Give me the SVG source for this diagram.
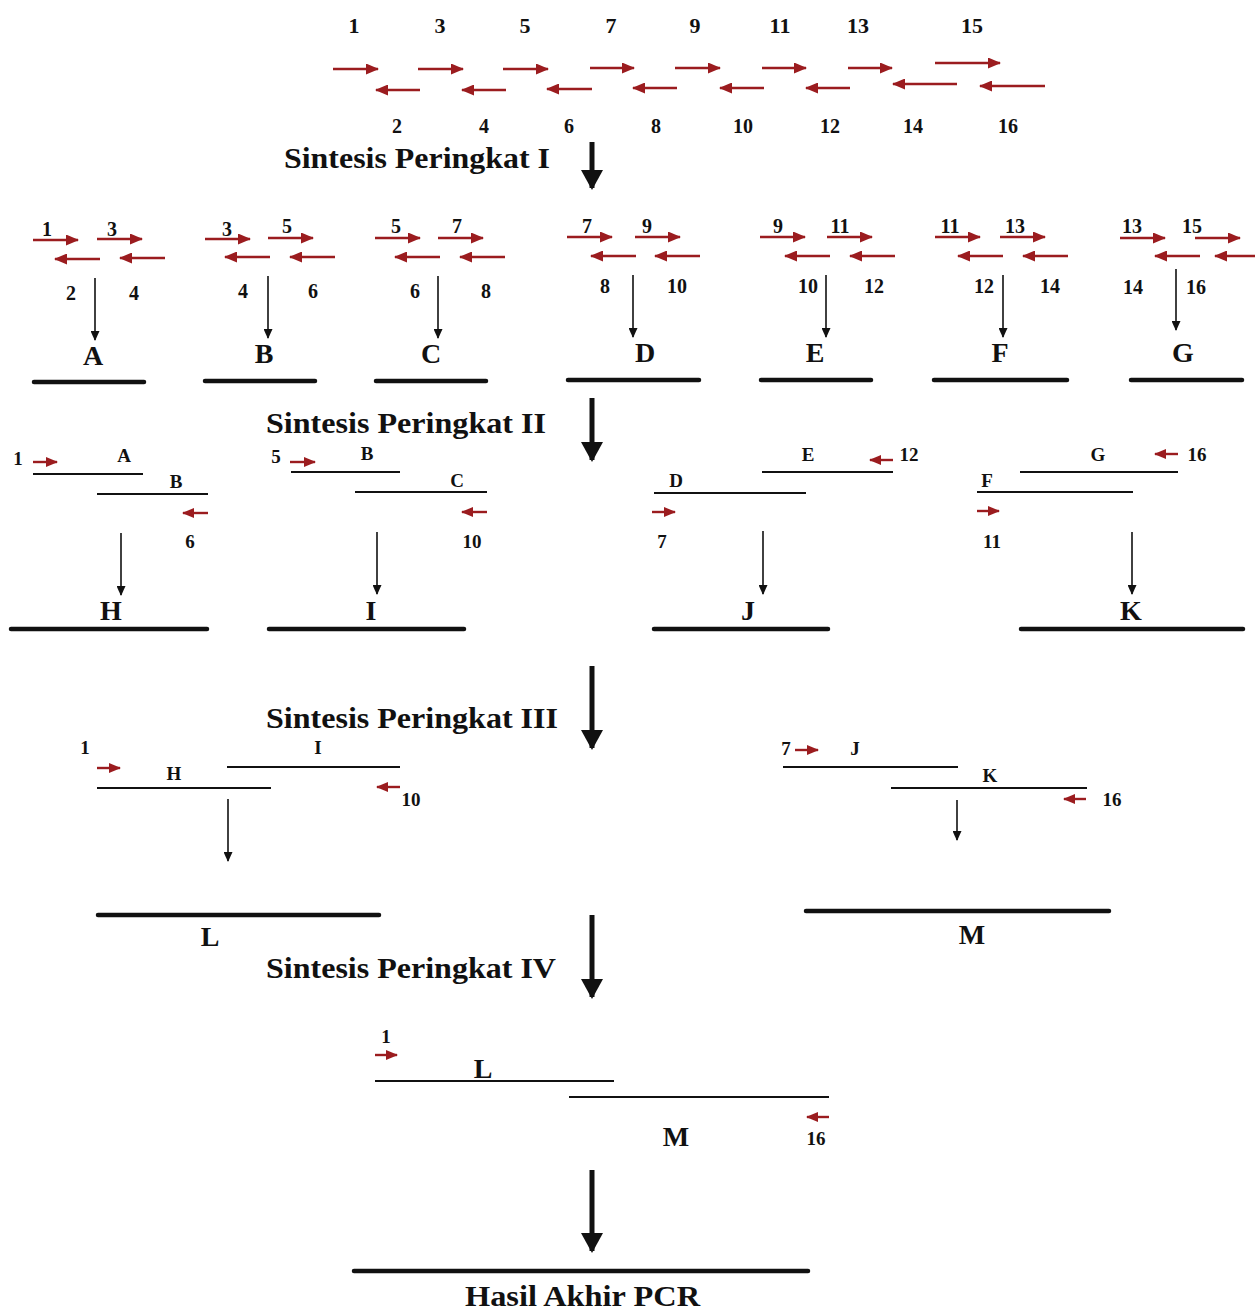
<svg xmlns="http://www.w3.org/2000/svg" width="1255" height="1316" viewBox="0 0 1255 1316">
<defs>
<marker id="rh" viewBox="0 0 13 11" markerWidth="13" markerHeight="11" refX="12" refY="5.5" orient="auto" markerUnits="userSpaceOnUse"><path d="M0,0 L13,5.5 L0,11 z" fill="#9b1c1f"/></marker>
<marker id="rhs" viewBox="0 0 12 10" markerWidth="12" markerHeight="10" refX="11" refY="5" orient="auto" markerUnits="userSpaceOnUse"><path d="M0,0 L12,5 L0,10 z" fill="#9b1c1f"/></marker>
<marker id="bh" viewBox="0 0 10 9" markerWidth="10" markerHeight="9" refX="9" refY="4.5" orient="auto" markerUnits="userSpaceOnUse"><path d="M0,0 L10,4.5 L0,9 z" fill="#111"/></marker>
<marker id="bbh" viewBox="0 0 20 22" markerWidth="20" markerHeight="22" refX="18" refY="11" orient="auto" markerUnits="userSpaceOnUse"><path d="M0,0 L20,11 L0,22 z" fill="#111"/></marker>
<style>
text{font-family:"Liberation Serif","Times New Roman",serif;font-weight:bold;fill:#111;text-anchor:middle}
.n1{font-size:22px}
.n2{font-size:20px}
.sm{font-size:19px}
.lt{font-size:28px}
.st{font-size:30px;text-anchor:start}
.r{stroke:#9b1c1f;stroke-width:2.6;fill:none;marker-end:url(#rh)}
.rs{stroke:#9b1c1f;stroke-width:2.4;fill:none;marker-end:url(#rhs)}
.b{stroke:#111;stroke-width:1.6;fill:none;marker-end:url(#bh)}
.bb{stroke:#111;stroke-width:5;fill:none;marker-end:url(#bbh)}
.thin{stroke:#111;stroke-width:2;fill:none}
.thick{stroke:#111;stroke-width:4.5;stroke-linecap:round;fill:none}
</style>
</defs>
<rect width="1255" height="1316" fill="#fff"/>

<g id="primers">
<text class="n1" x="354" y="33">1</text><text class="n1" x="440" y="33">3</text><text class="n1" x="525" y="33">5</text><text class="n1" x="611" y="33">7</text><text class="n1" x="695" y="33">9</text><text class="n1" x="780" y="33">11</text><text class="n1" x="858" y="33">13</text><text class="n1" x="972" y="33">15</text>
<line class="r" x1="333" y1="69" x2="378" y2="69"/><line class="r" x1="418" y1="69" x2="463" y2="69"/><line class="r" x1="503" y1="69" x2="548" y2="69"/><line class="r" x1="590" y1="68" x2="634" y2="68"/><line class="r" x1="675" y1="68" x2="720" y2="68"/><line class="r" x1="762" y1="68" x2="806" y2="68"/><line class="r" x1="848" y1="68" x2="892" y2="68"/><line class="r" x1="935" y1="63" x2="1000" y2="63"/>
<line class="r" x1="420" y1="90" x2="376" y2="90"/><line class="r" x1="506" y1="90" x2="462" y2="90"/><line class="r" x1="592" y1="89" x2="547" y2="89"/><line class="r" x1="677" y1="88" x2="633" y2="88"/><line class="r" x1="764" y1="88" x2="720" y2="88"/><line class="r" x1="850" y1="88" x2="806" y2="88"/><line class="r" x1="957" y1="84" x2="893" y2="84"/><line class="r" x1="1045" y1="86" x2="980" y2="86"/>
<text class="n2" x="397" y="133">2</text><text class="n2" x="484" y="133">4</text><text class="n2" x="569" y="133">6</text><text class="n2" x="656" y="133">8</text><text class="n2" x="743" y="133">10</text><text class="n2" x="830" y="133">12</text><text class="n2" x="913" y="133">14</text><text class="n2" x="1008" y="133">16</text>
</g>

<g id="stage1"><text class="st" x="284" y="168" textLength="266" lengthAdjust="spacingAndGlyphs">Sintesis Peringkat I</text></g>

<g id="A">
<text class="n2" x="47" y="236">1</text><text class="n2" x="112" y="236">3</text>
<line class="r" x1="33" y1="240" x2="78" y2="240"/><line class="r" x1="97" y1="239" x2="142" y2="239"/>
<line class="r" x1="100" y1="259" x2="55" y2="259"/><line class="r" x1="165" y1="258" x2="120" y2="258"/>
<text class="n2" x="71" y="300">2</text><text class="n2" x="134" y="300">4</text>
<text class="lt" x="93" y="365">A</text><line class="thick" x1="34" y1="382" x2="144" y2="382"/>
</g>
<g id="B">
<text class="n2" x="227" y="236">3</text><text class="n2" x="287" y="233">5</text>
<line class="r" x1="205" y1="239" x2="250" y2="239"/><line class="r" x1="268" y1="238" x2="313" y2="238"/>
<line class="r" x1="270" y1="257" x2="225" y2="257"/><line class="r" x1="335" y1="257" x2="290" y2="257"/>
<text class="n2" x="243" y="298">4</text><text class="n2" x="313" y="298">6</text>
<text class="lt" x="264" y="363">B</text><line class="thick" x1="205" y1="381" x2="315" y2="381"/>
</g>
<g id="C">
<text class="n2" x="396" y="233">5</text><text class="n2" x="457" y="233">7</text>
<line class="r" x1="375" y1="238" x2="420" y2="238"/><line class="r" x1="438" y1="238" x2="483" y2="238"/>
<line class="r" x1="440" y1="257" x2="395" y2="257"/><line class="r" x1="505" y1="257" x2="460" y2="257"/>
<text class="n2" x="415" y="298">6</text><text class="n2" x="486" y="298">8</text>
<text class="lt" x="431" y="363">C</text><line class="thick" x1="376" y1="381" x2="486" y2="381"/>
</g>
<g id="D">
<text class="n2" x="587" y="233">7</text><text class="n2" x="647" y="233">9</text>
<line class="r" x1="567" y1="237" x2="612" y2="237"/><line class="r" x1="635" y1="237" x2="680" y2="237"/>
<line class="r" x1="636" y1="256" x2="591" y2="256"/><line class="r" x1="700" y1="256" x2="655" y2="256"/>
<text class="n2" x="605" y="293">8</text><text class="n2" x="677" y="293">10</text>
<text class="lt" x="645" y="362">D</text><line class="thick" x1="568" y1="380" x2="699" y2="380"/>
</g>
<g id="E">
<text class="n2" x="778" y="233">9</text><text class="n2" x="840" y="233">11</text>
<line class="r" x1="760" y1="237" x2="805" y2="237"/><line class="r" x1="827" y1="237" x2="872" y2="237"/>
<line class="r" x1="830" y1="256" x2="785" y2="256"/><line class="r" x1="895" y1="256" x2="850" y2="256"/>
<text class="n2" x="808" y="293">10</text><text class="n2" x="874" y="293">12</text>
<text class="lt" x="815" y="362">E</text><line class="thick" x1="761" y1="380" x2="871" y2="380"/>
</g>
<g id="F">
<text class="n2" x="950" y="233">11</text><text class="n2" x="1015" y="233">13</text>
<line class="r" x1="935" y1="237" x2="980" y2="237"/><line class="r" x1="1000" y1="237" x2="1045" y2="237"/>
<line class="r" x1="1003" y1="256" x2="958" y2="256"/><line class="r" x1="1068" y1="256" x2="1023" y2="256"/>
<text class="n2" x="984" y="293">12</text><text class="n2" x="1050" y="293">14</text>
<text class="lt" x="1000" y="362">F</text><line class="thick" x1="934" y1="380" x2="1067" y2="380"/>
</g>
<g id="G">
<text class="n2" x="1132" y="233">13</text><text class="n2" x="1192" y="233">15</text>
<line class="r" x1="1120" y1="238" x2="1165" y2="238"/><line class="r" x1="1195" y1="238" x2="1240" y2="238"/>
<line class="r" x1="1200" y1="256" x2="1155" y2="256"/><line class="r" x1="1258" y1="256" x2="1215" y2="256"/>
<text class="n2" x="1133" y="294">14</text><text class="n2" x="1196" y="294">16</text>
<text class="lt" x="1183" y="362">G</text><line class="thick" x1="1131" y1="380" x2="1242" y2="380"/>
</g>

<g id="stage2"><text class="st" x="266" y="433" textLength="280" lengthAdjust="spacingAndGlyphs">Sintesis Peringkat II</text></g>

<g id="H">
<text class="sm" x="18" y="465">1</text><line class="rs" x1="33" y1="462" x2="57" y2="462"/>
<text class="sm" x="124" y="462">A</text><line class="thin" x1="33" y1="474" x2="143" y2="474"/>
<text class="sm" x="176" y="488">B</text><line class="thin" x1="97" y1="494" x2="208" y2="494"/>
<line class="rs" x1="208" y1="513" x2="183" y2="513"/><text class="sm" x="190" y="548">6</text>
<text class="lt" x="111" y="620">H</text><line class="thick" x1="11" y1="629" x2="207" y2="629"/>
</g>
<g id="I">
<text class="sm" x="276" y="463">5</text><line class="rs" x1="290" y1="462" x2="315" y2="462"/>
<text class="sm" x="367" y="460">B</text><line class="thin" x1="291" y1="472" x2="400" y2="472"/>
<text class="sm" x="457" y="487">C</text><line class="thin" x1="355" y1="492" x2="487" y2="492"/>
<line class="rs" x1="487" y1="512" x2="462" y2="512"/><text class="sm" x="472" y="548">10</text>
<text class="lt" x="371" y="620">I</text><line class="thick" x1="269" y1="629" x2="464" y2="629"/>
</g>
<g id="J">
<text class="sm" x="676" y="487">D</text><line class="thin" x1="654" y1="493" x2="806" y2="493"/>
<line class="rs" x1="652" y1="512" x2="675" y2="512"/><text class="sm" x="662" y="548">7</text>
<text class="sm" x="808" y="461">E</text><line class="thin" x1="762" y1="472" x2="893" y2="472"/>
<line class="rs" x1="893" y1="460" x2="870" y2="460"/><text class="sm" x="909" y="461">12</text>
<text class="lt" x="748" y="620">J</text><line class="thick" x1="654" y1="629" x2="828" y2="629"/>
</g>
<g id="K">
<text class="sm" x="987" y="487">F</text><line class="thin" x1="977" y1="492" x2="1133" y2="492"/>
<line class="rs" x1="977" y1="511" x2="999" y2="511"/><text class="sm" x="992" y="548">11</text>
<text class="sm" x="1098" y="461">G</text><line class="thin" x1="1020" y1="472" x2="1178" y2="472"/>
<line class="rs" x1="1178" y1="454" x2="1155" y2="454"/><text class="sm" x="1197" y="461">16</text>
<text class="lt" x="1131" y="620">K</text><line class="thick" x1="1021" y1="629" x2="1243" y2="629"/>
</g>

<g id="stage3"><text class="st" x="266" y="728" textLength="292" lengthAdjust="spacingAndGlyphs">Sintesis Peringkat III</text></g>

<g id="L1">
<text class="sm" x="85" y="754">1</text><line class="rs" x1="97" y1="768" x2="120" y2="768"/>
<text class="sm" x="174" y="780">H</text><line class="thin" x1="97" y1="788" x2="271" y2="788"/>
<text class="sm" x="318" y="754">I</text><line class="thin" x1="227" y1="767" x2="400" y2="767"/>
<line class="rs" x1="400" y1="787" x2="377" y2="787"/><text class="sm" x="411" y="806">10</text>
<line class="thick" x1="98" y1="915" x2="379" y2="915"/><text class="lt" x="210" y="946">L</text>
</g>
<g id="M1">
<text class="sm" x="786" y="755">7</text><line class="rs" x1="795" y1="750" x2="818" y2="750"/>
<text class="sm" x="855" y="755">J</text><line class="thin" x1="783" y1="767" x2="958" y2="767"/>
<text class="sm" x="990" y="782">K</text><line class="thin" x1="891" y1="788" x2="1087" y2="788"/>
<line class="rs" x1="1086" y1="799" x2="1064" y2="799"/><text class="sm" x="1112" y="806">16</text>
<line class="thick" x1="806" y1="911" x2="1109" y2="911"/><text class="lt" x="972" y="944">M</text>
</g>

<g id="stage4"><text class="st" x="266" y="978" textLength="290" lengthAdjust="spacingAndGlyphs">Sintesis Peringkat IV</text></g>

<g id="LM">
<text class="sm" x="386" y="1043">1</text><line class="rs" x1="375" y1="1055" x2="397" y2="1055"/>
<text class="lt" x="483" y="1078">L</text><line class="thin" x1="375" y1="1081" x2="614" y2="1081"/>
<line class="thin" x1="569" y1="1097" x2="829" y2="1097"/>
<line class="rs" x1="829" y1="1117" x2="807" y2="1117"/>
<text class="lt" x="676" y="1146">M</text><text class="sm" x="816" y="1145">16</text>
</g>

<g id="result">
<line class="thick" x1="354" y1="1271" x2="808" y2="1271"/>
<text class="st" x="465" y="1306" font-size="29" textLength="235" lengthAdjust="spacingAndGlyphs" style="font-size:29px">Hasil Akhir PCR</text>
</g>

<g id="connectors">
<line class="bb" x1="592" y1="142" x2="592" y2="188"/>
<line class="b" x1="95" y1="278" x2="95" y2="340"/>
<line class="b" x1="268" y1="276" x2="268" y2="338"/>
<line class="b" x1="438" y1="276" x2="438" y2="338"/>
<line class="b" x1="633" y1="275" x2="633" y2="337"/>
<line class="b" x1="826" y1="275" x2="826" y2="337"/>
<line class="b" x1="1003" y1="275" x2="1003" y2="337"/>
<line class="b" x1="1176" y1="269" x2="1176" y2="330"/>
<line class="bb" x1="592" y1="398" x2="592" y2="460"/>
<line class="b" x1="121" y1="533" x2="121" y2="595"/>
<line class="b" x1="377" y1="532" x2="377" y2="594"/>
<line class="b" x1="763" y1="531" x2="763" y2="594"/>
<line class="b" x1="1132" y1="532" x2="1132" y2="594"/>
<line class="bb" x1="592" y1="666" x2="592" y2="748"/>
<line class="b" x1="228" y1="799" x2="228" y2="861"/>
<line class="b" x1="957" y1="800" x2="957" y2="840"/>
<line class="bb" x1="592" y1="915" x2="592" y2="997"/>
<line class="bb" x1="592" y1="1170" x2="592" y2="1251"/>
</g>
</svg>
